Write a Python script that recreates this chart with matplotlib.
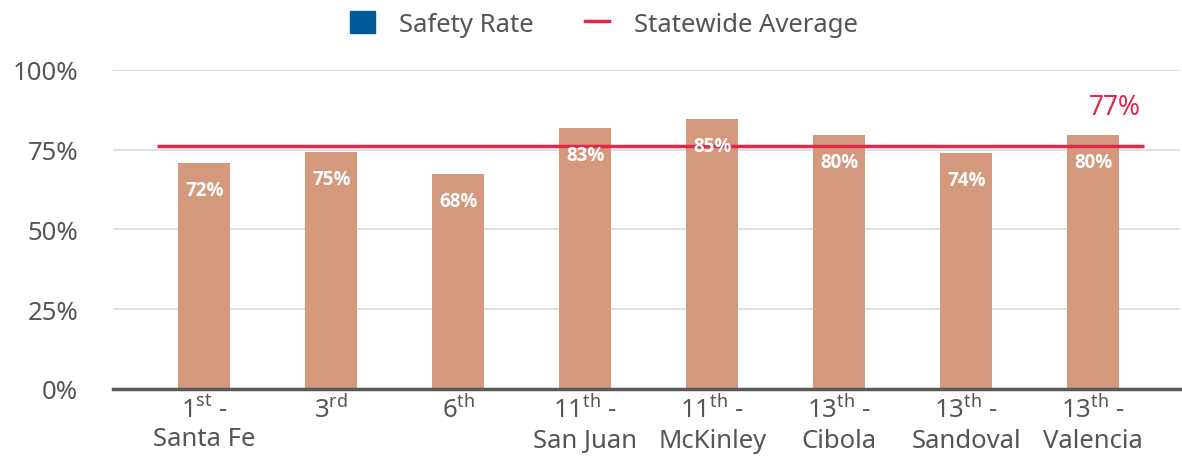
import numpy as np
import matplotlib
matplotlib.use("Agg")
import matplotlib.pyplot as plt
from matplotlib.lines import Line2D
from matplotlib.patches import Patch

plt.rcParams['font.family'] = ['Noto Sans', 'DejaVu Sans']
plt.rcParams['mathtext.fontset'] = 'custom'
plt.rcParams['mathtext.rm'] = 'Noto Sans'

# data
districts = ["1$^{\\mathrm{st}}$ -\nSanta Fe", "3$^{\\mathrm{rd}}$\n ", "6$^{\\mathrm{th}}$\n ",
             "11$^{\\mathrm{th}}$ -\nSan Juan", "11$^{\\mathrm{th}}$ -\nMcKinley",
             "13$^{\\mathrm{th}}$ -\nCibola", "13$^{\\mathrm{th}}$ -\nSandoval",
             "13$^{\\mathrm{th}}$ -\nValencia"]
safety_rate = [70.8, 74.3, 67.4, 81.8, 84.6, 79.6, 74.0, 79.6]
rate_labels = ["72%", "75%", "68%", "83%", "85%", "80%", "74%", "80%"]
statewide_avg = 76.3
statewide_label = "77%"

bar_col = '#D4997D'
red = '#E0294A'
blue = '#005B99'
grey_txt = '#555555'

fig = plt.figure(figsize=(11.82, 4.64), dpi=100)
ax = fig.add_axes([0.0956, 0.1595, 0.9024, 0.6875])

x = np.arange(len(safety_rate))
ax.bar(x, safety_rate, width=0.41, color=bar_col, zorder=2)
ax.hlines(statewide_avg, -0.37, 7.4, color=red, lw=2.5, zorder=3)

for xi, v, lab in zip(x, safety_rate, rate_labels):
    ax.text(xi, v - 8.5, lab, ha='center', va='center', color='white', fontsize=13.5,
            fontweight='bold', family=['Open Sans', 'DejaVu Sans'], zorder=4)

ax.text(7.17, 88.5, statewide_label, ha='center', va='center', color=red, fontsize=19)

ax.set_xlim(-0.72, 7.68)
ax.set_ylim(0, 100)
ax.set_yticks([0, 25, 50, 75, 100])
ax.set_yticklabels(["0%", "25%", "50%", "75%", "100%"])
ax.set_xticks(x)
ax.set_xticklabels(districts, linespacing=1.22)
ax.tick_params(axis='y', length=0, pad=25, labelsize=18.5, labelcolor=grey_txt)
ax.tick_params(axis='x', length=0, pad=4, labelsize=18.5, labelcolor=grey_txt)
ax.grid(axis='y', color='#D9D9D9', lw=1.2, zorder=0)
for s in ['top', 'right', 'left']:
    ax.spines[s].set_visible(False)
ax.spines['bottom'].set_color('#595959')
ax.spines['bottom'].set_linewidth(2.5)
ax.spines['bottom'].set_zorder(5)

handles = [Patch(facecolor=blue, edgecolor=blue),
           Line2D([0], [0], color=red, lw=2.5)]
leg = fig.legend(handles, ["Safety Rate", "Statewide Average"], loc='center',
                 bbox_to_anchor=(0.511, 0.947), ncol=2, frameon=False, fontsize=18.5,
                 handlelength=0.95, handleheight=0.95, handletextpad=0.95, columnspacing=2.0)
for t in leg.get_texts():
    t.set_color(grey_txt)

fig.savefig("out.png", dpi=100)
